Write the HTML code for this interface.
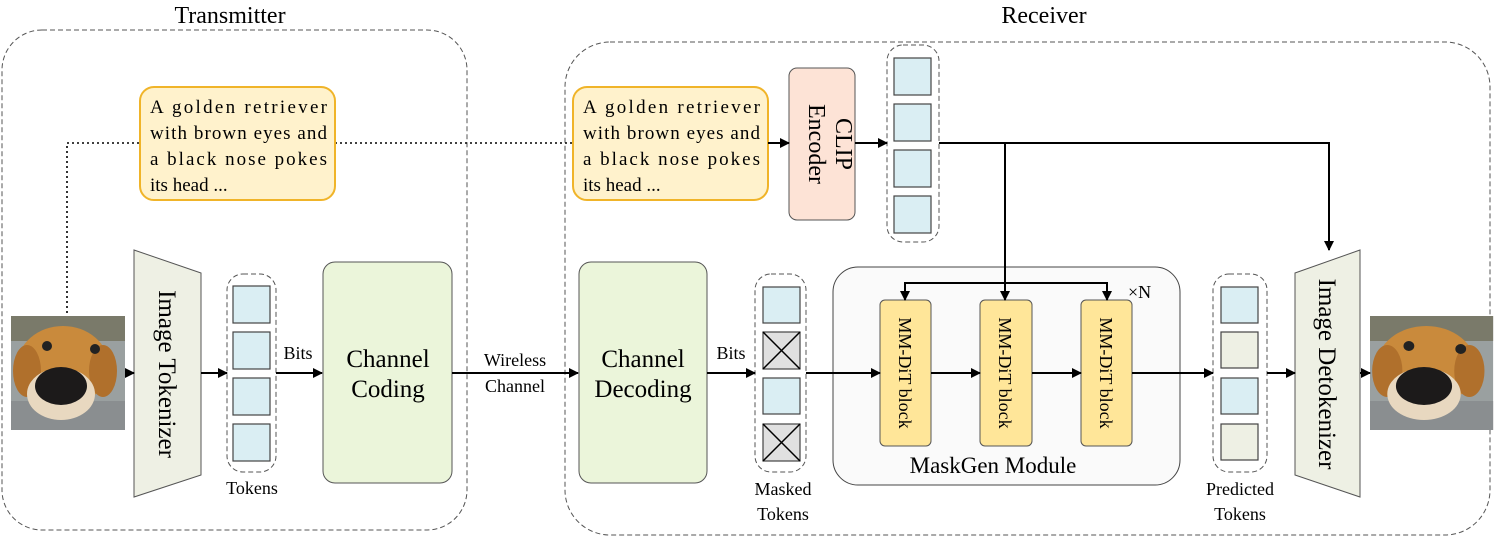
<!DOCTYPE html>
<html><head><meta charset="utf-8"><style>
body{margin:0;background:#fff}
svg{display:block;font-family:"Liberation Serif",serif}
</style></head><body>
<svg width="1495" height="541" viewBox="0 0 1495 541" xmlns="http://www.w3.org/2000/svg">
<defs>
<marker id="a" markerWidth="10" markerHeight="10" refX="9" refY="5" orient="auto" markerUnits="userSpaceOnUse"><path d="M0,0 L10,5 L0,10 Z" fill="#000"/></marker>
<g id="dog">
<rect x="0" y="0" width="114" height="114" fill="#9aa0a0"/>
<rect x="0" y="0" width="114" height="25" fill="#7a7a6a"/>
<rect x="0" y="85" width="114" height="29" fill="#8a8e90"/>
<ellipse cx="52" cy="50" rx="46" ry="40" fill="#c98a3c"/>
<ellipse cx="16" cy="55" rx="14" ry="26" fill="#b0702c"/>
<ellipse cx="92" cy="55" rx="14" ry="26" fill="#b0702c"/>
<ellipse cx="50" cy="78" rx="34" ry="26" fill="#e8d8c0"/>
<ellipse cx="50" cy="70" rx="26" ry="19" fill="#1c1a1a"/>
<circle cx="36" cy="30" r="5" fill="#222"/><circle cx="84" cy="33" r="5" fill="#222"/>
</g>
</defs>
<g fill="none" stroke="#555" stroke-width="1" stroke-dasharray="5,3">
<rect x="2" y="30" width="465" height="500" rx="40"/>
<rect x="565" y="42" width="925" height="493" rx="45"/>
</g>
<text x="230" y="23" font-size="24" text-anchor="middle">Transmitter</text>
<text x="1044" y="23" font-size="24" text-anchor="middle">Receiver</text>

<g stroke="#000" stroke-width="1.6" stroke-dasharray="2,3" fill="none">
<path d="M67,318 V143 H140"/><path d="M335,143 H573"/>
</g>
<g fill="#fff2cc" stroke="#f0b429" stroke-width="2">
<rect x="140" y="87" width="195" height="113" rx="14"/>
<rect x="573" y="87" width="195" height="113" rx="14"/>
</g>
<g font-size="19">
<text x="150" y="113" textLength="177" lengthAdjust="spacing">A golden retriever</text>
<text x="150" y="139" textLength="177" lengthAdjust="spacing">with brown eyes and</text>
<text x="150" y="165" textLength="177" lengthAdjust="spacing">a black nose pokes</text>
<text x="150" y="191">its head ...</text>
<text x="583" y="113" textLength="177" lengthAdjust="spacing">A golden retriever</text>
<text x="583" y="139" textLength="177" lengthAdjust="spacing">with brown eyes and</text>
<text x="583" y="165" textLength="177" lengthAdjust="spacing">a black nose pokes</text>
<text x="583" y="191">its head ...</text>
</g>

<use href="#dog" x="11" y="316"/>
<use href="#dog" transform="translate(1370,316) scale(1.08,1)"/>

<path d="M134,250 L201,273 L201,475 L134,497 Z" fill="#eef0e4" stroke="#555"/>
<text transform="translate(159,374) rotate(90)" font-size="25" text-anchor="middle">Image Tokenizer</text>
<path d="M1295,273 L1360,250 L1360,497 L1295,475 Z" fill="#eef0e4" stroke="#555"/>
<text transform="translate(1319,374) rotate(90)" font-size="25" text-anchor="middle">Image Detokenizer</text>

<g fill="none" stroke="#555" stroke-dasharray="5,3">
<rect x="227" y="274" width="49" height="198" rx="16"/>
<rect x="755" y="274" width="51" height="198" rx="16"/>
<rect x="1213" y="274" width="54" height="198" rx="16"/>
<rect x="887" y="45" width="52" height="197" rx="16"/>
</g>
<g stroke="#444" stroke-width="1.2" fill="#daeef3">
<rect x="233" y="286" width="37" height="37"/><rect x="233" y="332" width="37" height="37"/>
<rect x="233" y="378" width="37" height="37"/><rect x="233" y="424" width="37" height="37"/>
<rect x="763" y="287" width="37" height="36"/><rect x="763" y="378" width="37" height="36"/>
<rect x="1221" y="287" width="37" height="36"/><rect x="1221" y="378" width="37" height="36"/>
<rect x="1221" y="332" width="37" height="36" fill="#eef0e4"/><rect x="1221" y="424" width="37" height="36" fill="#eef0e4"/>
<rect x="894" y="58" width="37" height="37"/><rect x="894" y="104" width="37" height="37"/>
<rect x="894" y="150" width="37" height="37"/><rect x="894" y="196" width="37" height="37"/>
<rect x="763" y="332" width="37" height="37" fill="#e0e0e0"/><rect x="763" y="424" width="37" height="37" fill="#e0e0e0"/>
</g>
<g stroke="#000" stroke-width="1.5">
<path d="M763,332 L800,369 M800,332 L763,369 M763,424 L800,461 M800,424 L763,461"/>
</g>

<rect x="323" y="262" width="129" height="221" rx="12" fill="#ebf5da" stroke="#555"/>
<rect x="579" y="262" width="128" height="221" rx="12" fill="#ebf5da" stroke="#555"/>
<g font-size="25" text-anchor="middle">
<text x="388" y="367">Channel</text><text x="388" y="397">Coding</text>
<text x="643" y="367">Channel</text><text x="643" y="397">Decoding</text>
</g>

<rect x="833" y="267" width="347" height="218" rx="25" fill="#fafafa" stroke="#444"/>
<text x="993" y="473" font-size="23" text-anchor="middle">MaskGen Module</text>
<text x="1128" y="298" font-size="18">×N</text>
<g fill="#ffe699" stroke="#555">
<rect x="880" y="300" width="51" height="146" rx="5"/>
<rect x="980" y="300" width="52" height="146" rx="5"/>
<rect x="1081" y="300" width="51" height="146" rx="5"/>
</g>
<g font-size="18" text-anchor="middle">
<text transform="translate(899,373) rotate(90)">MM-DiT block</text>
<text transform="translate(999,373) rotate(90)">MM-DiT block</text>
<text transform="translate(1100,373) rotate(90)">MM-DiT block</text>
</g>

<rect x="789" y="68" width="66" height="152" rx="8" fill="#fde3d6" stroke="#555"/>
<text transform="translate(823,144) rotate(90)" font-size="24" text-anchor="middle"><tspan x="0" dy="-13">CLIP</tspan><tspan x="0" dy="27">Encoder</tspan></text>

<g font-size="18" text-anchor="middle">
<text x="252" y="494">Tokens</text>
<text x="298" y="359">Bits</text>
<text x="731" y="359">Bits</text>
<text x="515" y="366">Wireless</text><text x="515" y="392">Channel</text>
<text x="783" y="495">Masked</text><text x="783" y="520">Tokens</text>
<text x="1240" y="495">Predicted</text><text x="1240" y="520">Tokens</text>
</g>

<g stroke="#000" stroke-width="2" fill="none" marker-end="url(#a)">
<path d="M125,373 H134"/>
<path d="M201,373 H227"/>
<path d="M276,373 H322"/>
<path d="M452,373 H578"/>
<path d="M707,373 H755"/>
<path d="M806,373 H880"/>
<path d="M931,373 H980"/>
<path d="M1032,373 H1081"/>
<path d="M1132,373 H1213"/>
<path d="M1267,373 H1295"/>
<path d="M1360,373 H1370"/>
<path d="M768,143 H789"/>
<path d="M855,143 H887"/>
<path d="M939,143 H1329 V250"/>
<path d="M1005,143 V300"/>
<path d="M1005,283 H905 V300"/>
<path d="M1005,283 H1107 V300"/>
</g>
</svg>
</body></html>
